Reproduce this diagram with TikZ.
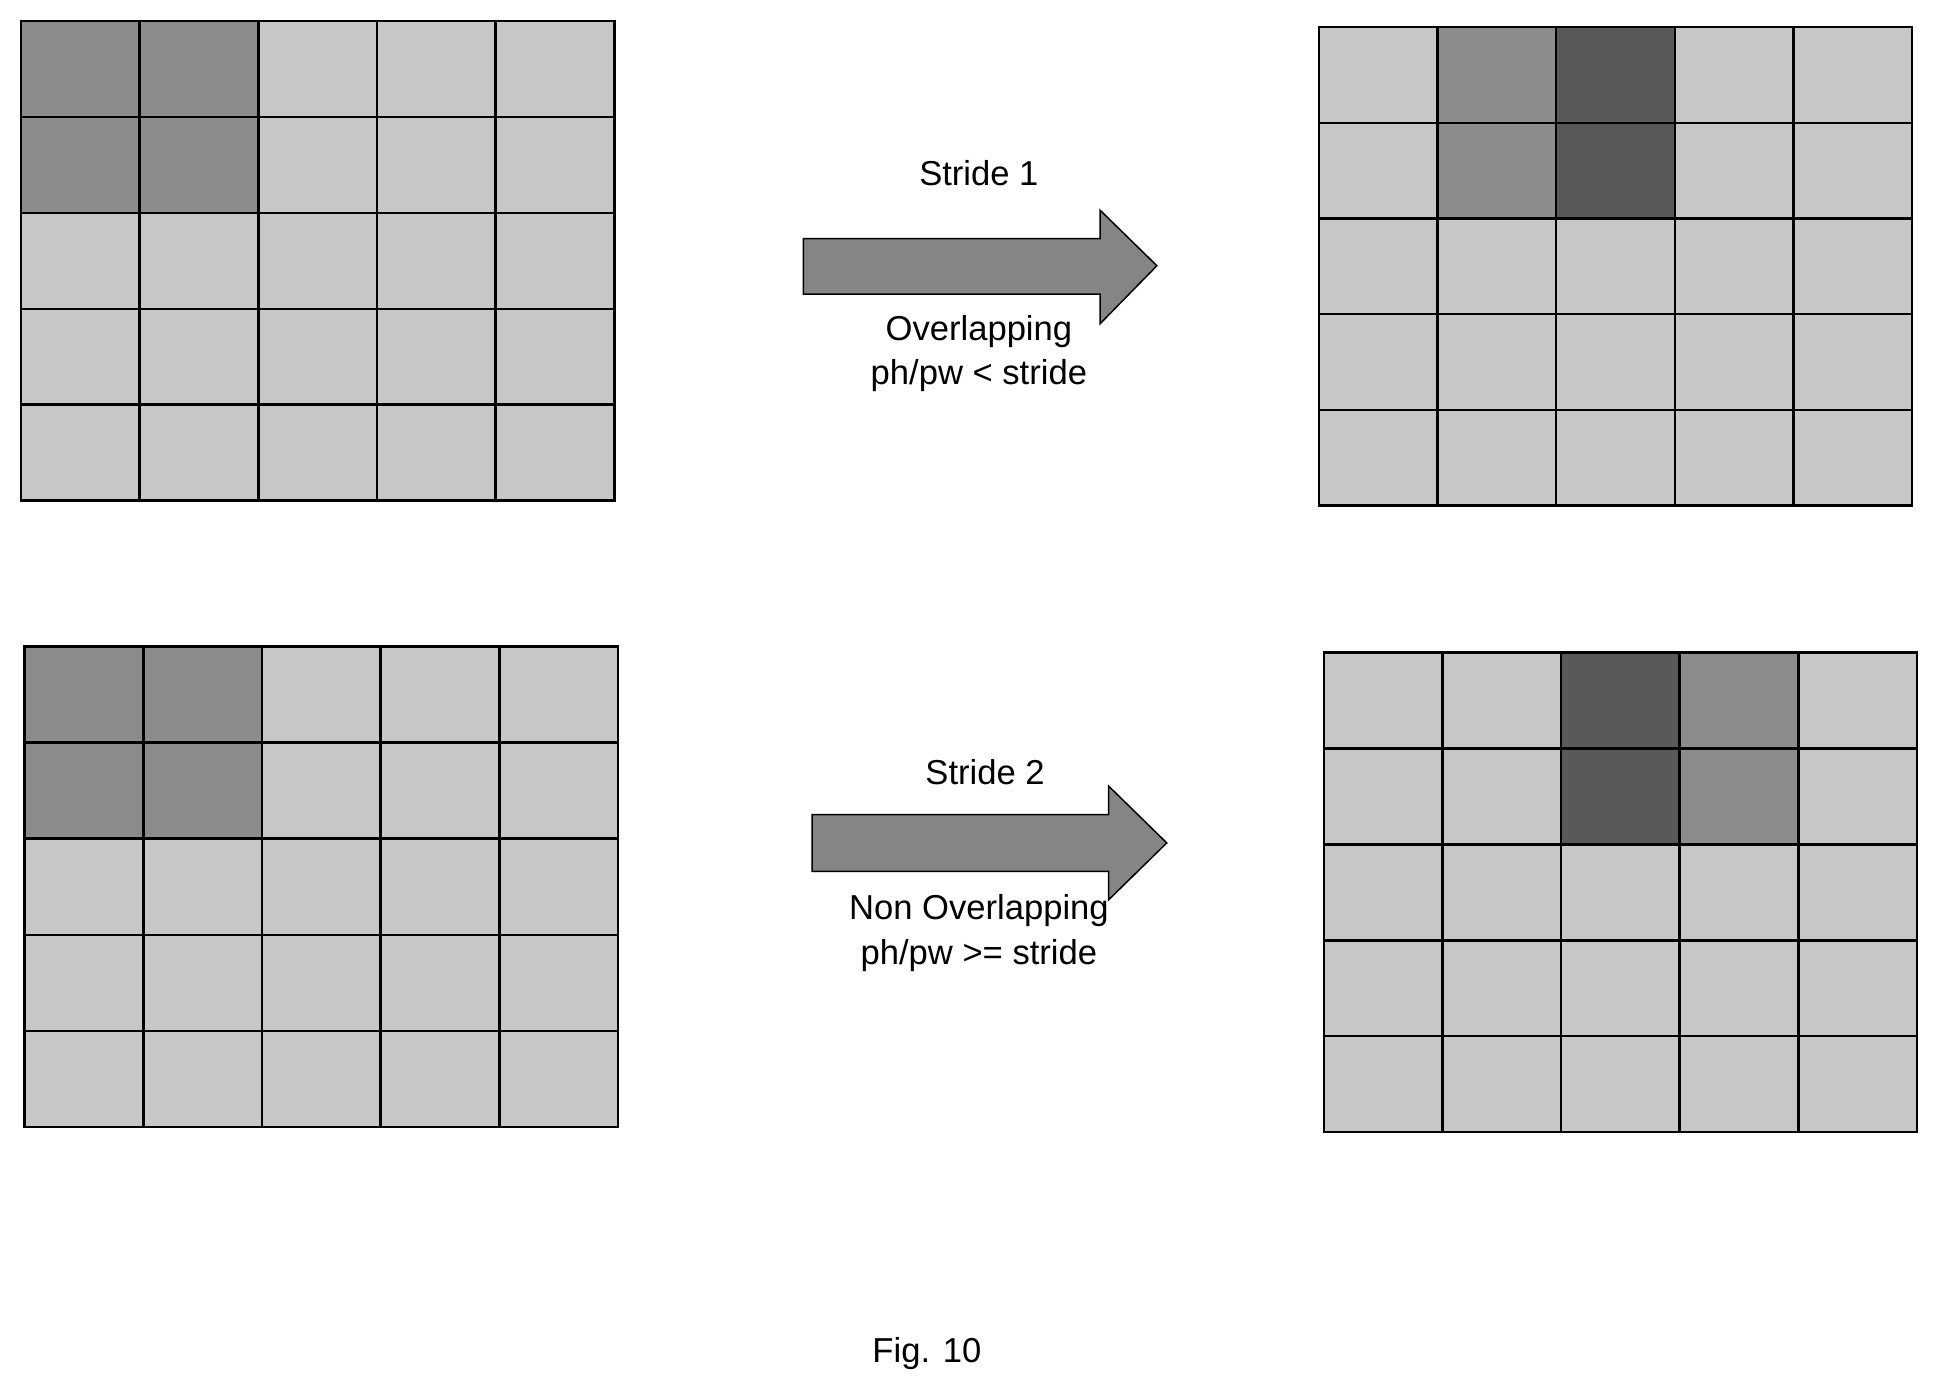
\documentclass[tikz,border=0pt]{standalone}
\usepackage{fontspec}
\setmainfont{Liberation Sans}
\begin{document}
\begin{tikzpicture}[x=1pt,y=-1pt,
  cellL/.style={fill=black!22,draw=black,line width=2pt},
  cellM/.style={fill=black!45,draw=black,line width=2pt},
  cellD/.style={fill=black!65,draw=black,line width=2pt},
  bigarrow/.style={fill=black!48,draw=black,line width=1.2pt},
  lab/.style={font=\fontsize{28}{32}\selectfont}]
\useasboundingbox (0,0) rectangle (1568,1131);
\newcommand{\grid}[4]{% x0,y0,w,h
  \foreach \i in {0,...,4}{\foreach \j in {0,...,4}{
    \path[cellL] ({#1+\i*#3},{#2+\j*#4}) rectangle ++(#3,#4);}}}
\grid{17}{17}{96}{77.6}
\foreach \i/\j in {0/0,1/0,0/1,1/1}{\path[cellM] ({17+\i*96},{17+\j*77.6}) rectangle ++(96,77.6);}
\grid{1067}{22}{96}{77.4}
\foreach \i/\j/\s in {1/0/cellM,1/1/cellM,2/0/cellD,2/1/cellD}{\path[\s] ({1067+\i*96},{22+\j*77.4}) rectangle ++(96,77.4);}
\grid{20}{523}{96}{77.8}
\foreach \i/\j in {0/0,1/0,0/1,1/1}{\path[cellM] ({20+\i*96},{523+\j*77.8}) rectangle ++(96,77.8);}
\grid{1071}{528}{96}{77.6}
\foreach \i/\j/\s in {3/0/cellM,3/1/cellM,2/0/cellD,2/1/cellD}{\path[\s] ({1071+\i*96},{528+\j*77.6}) rectangle ++(96,77.6);}
\path[bigarrow] (650,193) -- (890,193) -- (890,170) -- (936,215) -- (890,262) -- (890,238) -- (650,238) -- cycle;
\path[bigarrow] (657,659) -- (897,659) -- (897,636) -- (944,682) -- (897,728) -- (897,705) -- (657,705) -- cycle;
\node[lab] (s1) at (792,140) {Stride 1};
\node[lab] (o1) at (792,268) {Overlapping};
\node[lab] (p1) at (792,304) {ph/pw < stride};
\node[lab] (s2) at (797,625) {Stride 2};
\node[lab] (o2) at (792,737) {Non Overlapping};
\node[lab] (p2) at (792,773) {ph/pw >= stride};
\node[lab] (fig) at (750,1095) {Fig. 10};
\end{tikzpicture}
\end{document}
